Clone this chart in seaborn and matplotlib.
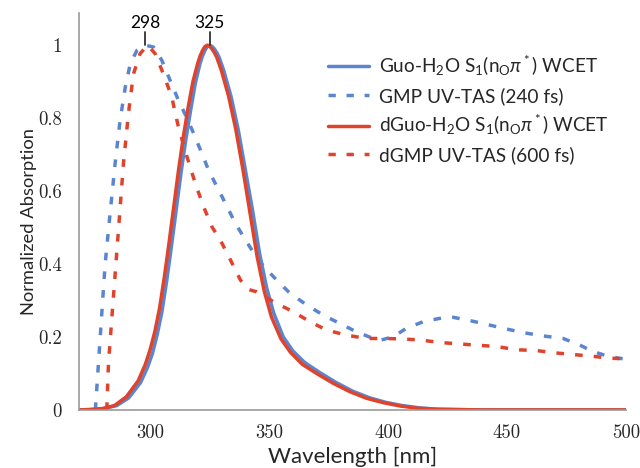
import matplotlib
matplotlib.use("Agg")
import matplotlib.pyplot as plt
import seaborn as sns

# Spectres
guo_wcet_x = [270, 280, 286, 291, 296, 299, 301, 303, 305, 307, 309, 311, 313, 315, 317, 319, 321, 322, 323, 324,
              325, 326, 327, 328, 329, 331, 334, 337, 340, 343, 346, 349, 352, 356, 360, 365, 371, 378, 385, 392,
              399, 406, 413, 421, 440, 500]
guo_wcet_y = [0.0, 0.003, 0.012, 0.033, 0.075, 0.118, 0.155, 0.207, 0.27, 0.355, 0.45, 0.55, 0.65, 0.74, 0.82,
              0.895, 0.95, 0.97, 0.985, 0.996, 1.0, 0.997, 0.99, 0.98, 0.967, 0.93, 0.86, 0.77, 0.66, 0.55, 0.43,
              0.335, 0.265, 0.2, 0.162, 0.13, 0.104, 0.076, 0.052, 0.034, 0.021, 0.012, 0.006, 0.002, 0.0, 0.0]

dguo_wcet_x = [270, 275, 280, 285, 290, 295, 298, 300, 302, 304, 306, 308, 310, 312, 314, 316, 318, 320, 321, 322,
               323, 324, 325, 326, 327, 328, 330, 333, 336, 339, 342, 345, 348, 351, 355, 359, 364, 370, 377, 384,
               391, 398, 405, 412, 420, 440, 500]
dguo_wcet_y = [0.0, 0.001, 0.004, 0.012, 0.036, 0.08, 0.125, 0.165, 0.215, 0.28, 0.365, 0.46, 0.56, 0.66, 0.75,
               0.83, 0.9, 0.95, 0.97, 0.985, 0.996, 1.0, 0.997, 0.99, 0.98, 0.967, 0.93, 0.86, 0.77, 0.66, 0.54,
               0.42, 0.325, 0.255, 0.195, 0.158, 0.125, 0.1, 0.073, 0.05, 0.032, 0.02, 0.011, 0.005, 0.002, 0.0, 0.0]

gmp_tas_x = [277, 278.3, 279.7, 281.1, 283.2, 285.3, 287.4, 289.6, 291.7, 294.5, 298, 301.4, 304.9, 308.4, 311.9,
             315.5, 318.3, 321.8, 324.6, 328.1, 332.4, 335.9, 340.1, 343.6, 347.6, 353.2, 358.8, 365.8, 372.8,
             379.8, 386.8, 393.8, 397.3, 402.2, 407.8, 414.8, 423.2, 427.4, 433, 440, 448.4, 456.8, 465.2, 473.6,
             480.6, 486.2, 493.2, 500]
gmp_tas_y = [0.0, 0.128, 0.265, 0.40, 0.54, 0.676, 0.795, 0.886, 0.95, 0.986, 1.0, 0.995, 0.959, 0.904, 0.849,
             0.80, 0.758, 0.703, 0.657, 0.612, 0.557, 0.511, 0.466, 0.43, 0.395, 0.356, 0.32, 0.288, 0.26, 0.237,
             0.214, 0.196, 0.192, 0.201, 0.224, 0.242, 0.253, 0.254, 0.247, 0.237, 0.224, 0.212, 0.203, 0.196,
             0.178, 0.16, 0.146, 0.139]

dgmp_tas_x = [281.8, 282.5, 284.6, 286.7, 288.8, 290.9, 293, 295.8, 299, 302.1, 305.6, 309.1, 311.9, 315.5, 319,
              322.5, 326, 329.5, 333.8, 338, 341.5, 344.8, 351.8, 360.2, 367.2, 374.2, 382.6, 391, 398, 405, 413.4,
              421.8, 430.2, 438.6, 445.6, 454, 462.4, 469.4, 477.8, 486.2, 493.2, 500]
dgmp_tas_y = [0.0, 0.128, 0.311, 0.493, 0.676, 0.813, 0.921, 0.977, 1.0, 0.977, 0.921, 0.858, 0.776, 0.694, 0.621,
              0.557, 0.502, 0.466, 0.411, 0.356, 0.33, 0.324, 0.297, 0.269, 0.242, 0.219, 0.205, 0.196, 0.196,
              0.195, 0.192, 0.185, 0.181, 0.177, 0.174, 0.165, 0.163, 0.157, 0.152, 0.147, 0.142, 0.14]

peak_labels = [298, 325]
x_ticks = [300, 350, 400, 450, 500]
y_ticks = [0, 0.2, 0.4, 0.6, 0.8, 1]
y_tick_labels = ["0", "0.2", "0.4", "0.6", "0.8", "1"]

blue = "#5b86cf"
red = "#e0432b"

sns.set_style("white")
plt.rcParams["font.family"] = ["Lato", "DejaVu Sans"]
plt.rcParams["mathtext.fontset"] = "custom"
plt.rcParams["mathtext.rm"] = "Lato"
plt.rcParams["mathtext.it"] = "Lato:italic"

fig = plt.figure(figsize=(6.4, 4.68), dpi=100)
ax = fig.add_axes([0.123, 0.124, 0.855, 0.848])

sns.lineplot(x=guo_wcet_x, y=guo_wcet_y, ax=ax, color=blue, lw=2.5,
             label=r"Guo-H$_2$O S$_1$(n$_\mathrm{O}\pi^*$) WCET")
sns.lineplot(x=gmp_tas_x, y=gmp_tas_y, ax=ax, color=blue, lw=2.5, linestyle="--",
             label="GMP UV-TAS (240 fs)")
sns.lineplot(x=dguo_wcet_x, y=dguo_wcet_y, ax=ax, color=red, lw=2.5,
             label=r"dGuo-H$_2$O S$_1$(n$_\mathrm{O}\pi^*$) WCET")
sns.lineplot(x=dgmp_tas_x, y=dgmp_tas_y, ax=ax, color=red, lw=2.5, linestyle="--",
             label="dGMP UV-TAS (600 fs)")
for ln in ax.lines:
    if ln.get_linestyle() == "--":
        ln.set_dashes((2.2, 3.2))

# Marqueurs des maxima
for p in peak_labels:
    ax.plot([p, p], [1.0, 1.035], color="#333333", lw=1.3)
    ax.text(p, 1.04, str(p), ha="center", va="bottom", fontsize=12.5, color="black")

ax.set_xlim(270, 500)
ax.set_ylim(0, 1.088)
ax.set_xticks(x_ticks)
ax.set_xticklabels([str(t) for t in x_ticks], fontfamily="cmr10", fontsize=13.5)
ax.set_yticks(y_ticks)
ax.set_yticklabels(y_tick_labels, fontfamily="cmr10", fontsize=13.5)
ax.tick_params(direction="in", length=4, width=1, color="#999999")
ax.tick_params(axis="x", pad=10)
ax.tick_params(axis="y", pad=12)

for s in ["top", "right"]:
    ax.spines[s].set_visible(False)
for s in ["left", "bottom"]:
    ax.spines[s].set_color("#999999")
    ax.spines[s].set_linewidth(1.2)

ax.set_xlabel("Wavelength [nm]", fontsize=16, labelpad=4)
ax.set_ylabel("Normalized Absorption", fontsize=13.2)
ax.yaxis.set_label_coords(-0.077, 0.476)

leg = ax.legend(loc="upper right", bbox_to_anchor=(1.0, 0.94), frameon=False, fontsize=13.7,
                handlelength=2.2, handletextpad=0.5, labelspacing=0.45)
for h in leg.get_lines():
    if h.get_linestyle() == "--":
        h.set_dashes((2.1, 3.1))

plt.savefig("out.png", dpi=100)
